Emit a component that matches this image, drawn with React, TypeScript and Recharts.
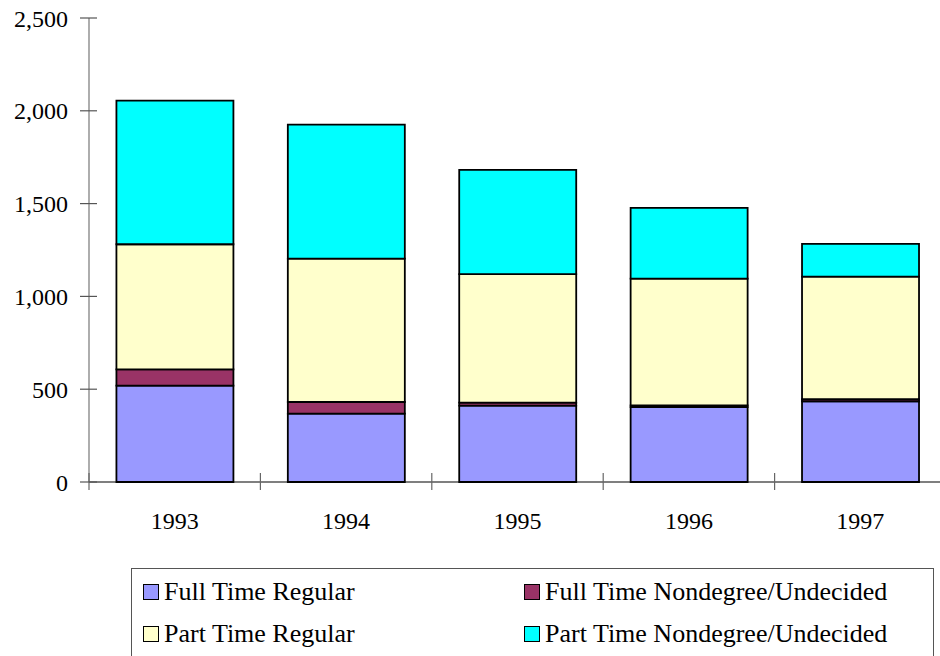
import { BarChart, Bar, XAxis, YAxis } from "recharts";

const years = ["1993", "1994", "1995", "1996", "1997"];
const fullTimeRegular = [519, 368, 411, 403, 435];
const fullTimeNondegree = [88, 63, 17, 10, 11];
const partTimeRegular = [674, 773, 692, 683, 661];
const partTimeNondegree = [774, 721, 562, 381, 176];
const yTicks = [0, 500, 1000, 1500, 2000, 2500];

const series = [
  { key: "ftr", name: "Full Time Regular", color: "#9999ff" },
  { key: "ftn", name: "Full Time Nondegree/Undecided", color: "#993366" },
  { key: "ptr", name: "Part Time Regular", color: "#ffffcc" },
  { key: "ptn", name: "Part Time Nondegree/Undecided", color: "#00ffff" },
];

const data = years.map((year, i) => ({
  year,
  ftr: fullTimeRegular[i],
  ftn: fullTimeNondegree[i],
  ptr: partTimeRegular[i],
  ptn: partTimeNondegree[i],
}));

const FONT = "'Liberation Serif', 'Times New Roman', serif";
const AXIS_Y = 482;
const BAND = (946 - 89) / years.length;

function YTick(props: any) {
  const { x, y, payload } = props;
  const axisX = x + 9 + 12;
  return (
    <g>
      <line x1={axisX - 9} x2={axisX + 8} y1={y} y2={y} stroke="#555" strokeWidth={1.2} />
      <text x={x} y={y} dy="0.355em" textAnchor="end" fontSize={24} fontFamily={FONT} fill="#000">
        {payload.value.toLocaleString("en-US")}
      </text>
    </g>
  );
}

function XTick(props: any) {
  const { x, y, payload, index } = props;
  const left = x - BAND / 2;
  return (
    <g>
      <line x1={left} x2={left} y1={AXIS_Y - 9} y2={AXIS_Y + 8} stroke="#666" strokeWidth={1.2} />
      {index === years.length - 1 && (
        <line x1={x + BAND / 2} x2={x + BAND / 2} y1={AXIS_Y - 9} y2={AXIS_Y + 8} stroke="#666" strokeWidth={1.2} />
      )}
      <text x={x} y={y} dy="0.71em" textAnchor="middle" fontSize={24} fontFamily={FONT} fill="#000">
        {payload.value}
      </text>
    </g>
  );
}

function LegendBox() {
  return (
    <div
      style={{
        position: "absolute",
        left: 131,
        top: 568,
        width: 803,
        height: 100,
        border: "1px solid #555",
        boxSizing: "border-box",
        fontFamily: FONT,
        fontSize: 26,
        color: "#000",
      }}
    >
      {series.map((s, i) => (
        <div
          key={s.key}
          style={{
            position: "absolute",
            left: i % 2 === 0 ? 11 : 392,
            top: i < 2 ? 8 : 50,
            display: "flex",
            alignItems: "center",
            whiteSpace: "nowrap",
            lineHeight: "30px",
          }}
        >
          <span
            style={{
              display: "inline-block",
              width: 14,
              height: 14,
              background: s.color,
              border: "1.5px solid #000",
              marginRight: 5,
            }}
          />
          {s.name}
        </div>
      ))}
    </div>
  );
}

export default function App() {
  return (
    <div
      style={{
        position: "fixed",
        left: 0,
        top: 0,
        width: 940,
        height: 656,
        overflow: "hidden",
        background: "#fff",
      }}
    >
      <BarChart
        width={960}
        height={656}
        data={data}
        margin={{ top: 18, right: 14, left: 0, bottom: 144 }}
        barCategoryGap="16%"
      >
        <XAxis
          dataKey="year"
          height={30}
          tickLine={false}
          tickSize={0}
          tickMargin={30}
          axisLine={{ stroke: "#000", strokeWidth: 1.2 }}
          tick={<XTick />}
          interval={0}
        />
        <YAxis
          width={89}
          domain={[0, 2500]}
          ticks={yTicks}
          tickLine={false}
          tickSize={9}
          tickMargin={12}
          axisLine={{ stroke: "#777", strokeWidth: 1.2 }}
          tick={<YTick />}
          interval={0}
        />
        {series.map((s) => (
          <Bar
            key={s.key}
            dataKey={s.key}
            name={s.name}
            stackId="a"
            fill={s.color}
            stroke="#000"
            strokeWidth={1.8}
            isAnimationActive={false}
          />
        ))}
      </BarChart>
      <LegendBox />
    </div>
  );
}
